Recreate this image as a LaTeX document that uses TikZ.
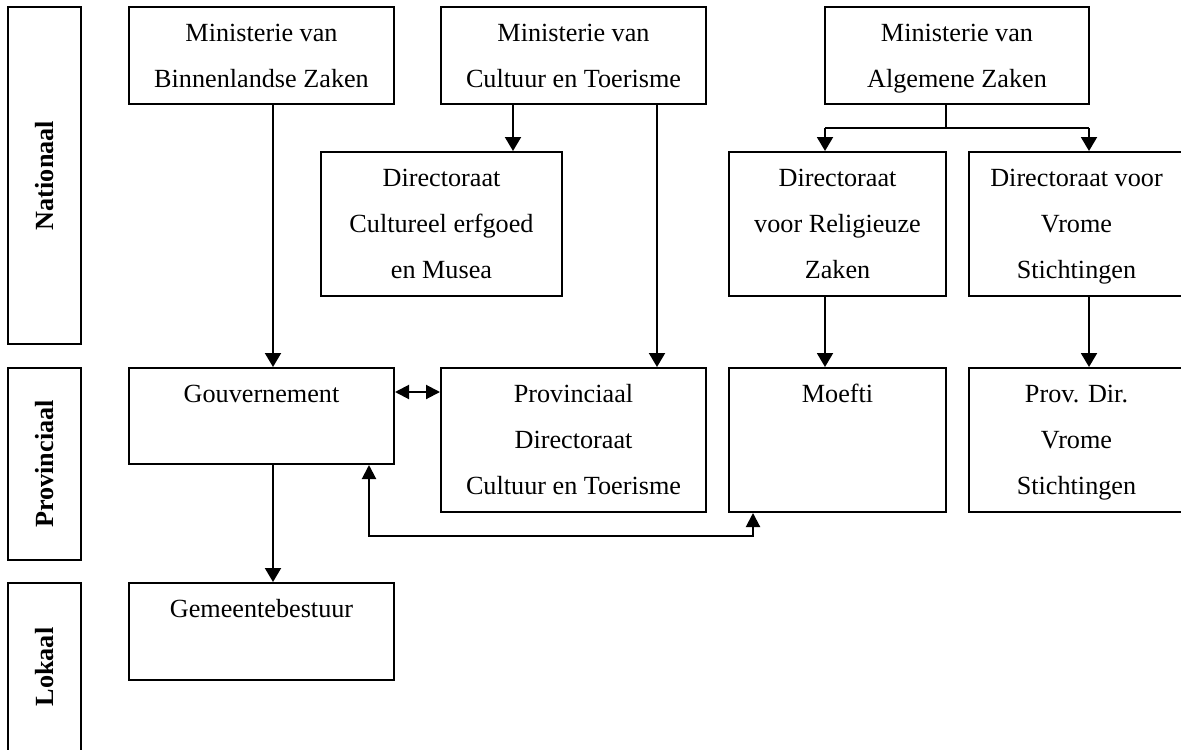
\documentclass[tikz,border=0pt]{standalone}
\usepackage{fontspec}
\setmainfont{Liberation Serif}
\usetikzlibrary{arrows.meta,fit}
\begin{document}
\begin{tikzpicture}[x=0.5pt,y=-0.5pt,
  boxst/.style={draw,line width=1pt,inner sep=0pt},
  txt/.style={inner sep=0pt,align=center,anchor=north,font=\fontsize{13.1}{23}\selectfont},
  lvl/.style={rotate=90,inner sep=0pt,font=\fontsize{13.1}{15}\selectfont\bfseries},
  ln/.style={line width=1pt},
  arr/.style={line width=1pt,-{Triangle[width=8pt,length=7pt]}},
  darr/.style={line width=1pt,{Triangle[width=7pt,length=7pt]}-{Triangle[width=7pt,length=7pt]}}]
\useasboundingbox (0,0) rectangle (1181,749);
\clip (0,0) rectangle (1181,749);
% level labels
\node[boxst, fit={(8,7)(81,344)}] (lnat) {};
\node[lvl] (tnat) at (lnat.center) {Nationaal};
\node[boxst, fit={(8,368)(81,560)}] (lprov) {};
\node[lvl] (tprov) at (lprov.center) {Provinciaal};
\node[boxst, fit={(8,583)(81,751)}] (llok) {};
\node[lvl] (tlok) at (llok.center) {Lokaal};
% boxes
\node[boxst, fit={(129,7)(394,104)}] (mbz) {};
\node[txt] (tmbz) at ([yshift=-1.6pt]mbz.north) {\strut Ministerie van\\Binnenlandse Zaken};
\node[boxst, fit={(441,7)(706,104)}] (mct) {};
\node[txt] (tmct) at ([yshift=-1.6pt]mct.north) {\strut Ministerie van\\Cultuur en Toerisme};
\node[boxst, fit={(825,7)(1089,104)}] (maz) {};
\node[txt] (tmaz) at ([yshift=-1.6pt]maz.north) {\strut Ministerie van\\Algemene Zaken};
\node[boxst, fit={(321,152)(562,296)}] (dce) {};
\node[txt] (tdce) at ([yshift=-1.6pt]dce.north) {\strut Directoraat\\Cultureel erfgoed\\en Musea};
\node[boxst, fit={(729,152)(946,296)}] (drz) {};
\node[txt] (tdrz) at ([yshift=-1.6pt]drz.north) {\strut Directoraat\\voor Religieuze\\Zaken};
\node[boxst, fit={(969,152)(1184,296)}] (dvs) {};
\node[txt] (tdvs) at ([yshift=-1.6pt]dvs.north) {\strut Directoraat voor\\Vrome\\Stichtingen};
\node[boxst, fit={(129,368)(394,464)}] (gouv) {};
\node[txt] (tgouv) at ([yshift=-1.6pt]gouv.north) {\strut Gouvernement};
\node[boxst, fit={(441,368)(706,512)}] (pdct) {};
\node[txt] (tpdct) at ([yshift=-1.6pt]pdct.north) {\strut Provinciaal\\Directoraat\\Cultuur en Toerisme};
\node[boxst, fit={(729,368)(946,512)}] (moefti) {};
\node[txt] (tmoefti) at ([yshift=-1.6pt]moefti.north) {\strut Moefti};
\node[boxst, fit={(969,368)(1184,512)}] (pdvs) {};
\node[txt] (tpdvs) at ([yshift=-1.6pt]pdvs.north) {\strut Prov. Dir.\\Vrome\\Stichtingen};
\node[boxst, fit={(129,583)(394,680)}] (gem) {};
\node[txt] (tgem) at ([yshift=-1.6pt]gem.north) {\strut Gemeentebestuur};
% guide coordinates
\coordinate (cA) at (273,0);
\coordinate (cB) at (513,0);
\coordinate (cC) at (657,0);
\coordinate (cD) at (825,0);
\coordinate (cE) at (946,0);
\coordinate (cF) at (1089,0);
\coordinate (cG) at (369,0);
\coordinate (cH) at (753,0);
\coordinate (rbr) at (0,128);
\coordinate (rdb) at (0,392);
\coordinate (rlow) at (0,536);
% connectors
\draw[arr] (mbz.south -| cA) -- (gouv.north -| cA);
\draw[arr] (gouv.south -| cA) -- (gem.north -| cA);
\draw[arr] (mct.south -| cB) -- (dce.north -| cB);
\draw[arr] (mct.south -| cC) -- (pdct.north -| cC);
\draw[ln] (maz.south -| cE) -- (cE |- rbr);
\draw[arr] (cD |- rbr) -- (drz.north -| cD);
\draw[arr] (cF |- rbr) -- (dvs.north -| cF);
\draw[ln] (cD |- rbr) -- (cF |- rbr);
\draw[arr] (drz.south -| cD) -- (moefti.north -| cD);
\draw[arr] (dvs.south -| cF) -- (pdvs.north -| cF);
\draw[darr] (gouv.east |- rdb) -- (pdct.west |- rdb);
\draw[darr] (gouv.south -| cG) -- (cG |- rlow) -- (cH |- rlow) -- (moefti.south -| cH);
\end{tikzpicture}
\end{document}
